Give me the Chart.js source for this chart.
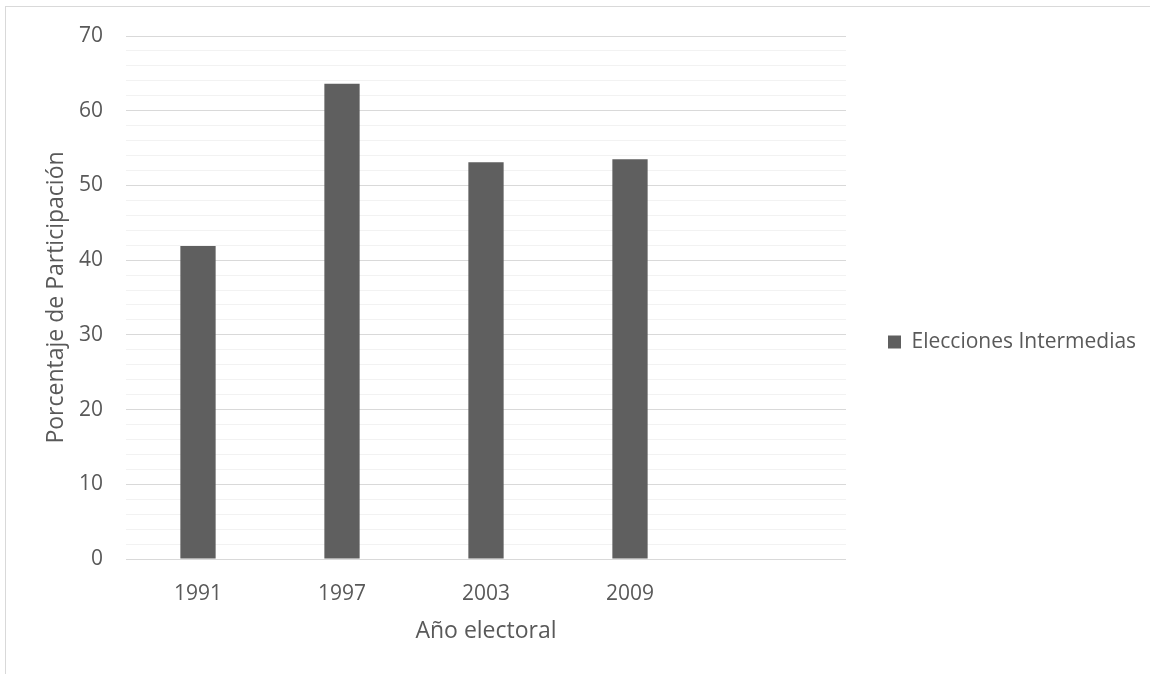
<!DOCTYPE html>
<html>
<head>
<meta charset="utf-8">
<script src="https://cdn.jsdelivr.net/npm/chart.js@4"></script>
<style>
  html, body { margin: 0; padding: 0; background: #fff; overflow: hidden; }
  #wrap { position: relative; width: 1150px; height: 674px; }
  #marco { position: absolute; left: 5px; top: 6px; width: 1200px; height: 720px; border: 1px solid #d9d9d9; box-sizing: border-box; }
  canvas { position: absolute; left: 0; top: 0; }
</style>
</head>
<body>
<div id="wrap">
  <div id="marco"></div>
  <canvas id="participacion" width="1150" height="674"></canvas>
</div>
<script>
// ------------------ Datos ------------------
const anios = ['1991', '1997', '2003', '2009', '']; // último hueco vacío como en el original
const intermedias = [41.9, 63.6, 53.1, 53.5, null]; // % de participación
const ejeY = { min: 0, max: 70, paso: 2, mayor: 10 };

const gris = '#595959';
const fuente = 'Open Sans';

// Ajusta anchos fijos de ejes y leyenda para calcar la disposición
const disposicion = {
    id: 'disposicion',
    beforeLayout(chart) {
        const lg = chart.legend;
        if (lg && !lg._ajustada) {
            const fitOriginal = lg.fit.bind(lg);
            lg.fit = function () { fitOriginal(); this.width = 304; };
            lg._ajustada = true;
        }
    },
    afterLayout(chart) {
        const lg = chart.legend;
        lg.top = 0;
        lg.bottom = 684;
    }
};

new Chart(document.getElementById('participacion').getContext('2d'), {
    type: 'bar',
    data: {
        labels: anios,
        datasets: [{
            label: 'Elecciones Intermedias',
            data: intermedias,
            backgroundColor: '#5f5f5f',
            borderWidth: 0,
            categoryPercentage: 1,
            barPercentage: 0.245
        }]
    },
    options: {
        responsive: false,
        animation: false,
        layout: { padding: { top: 36, left: 0, right: 0, bottom: 0 } },
        plugins: {
            legend: {
                position: 'right',
                labels: {
                    color: gris,
                    font: { family: fuente, size: 21 },
                    boxWidth: 13,
                    boxHeight: 13,
                    padding: 42
                }
            },
            tooltip: { enabled: false }
        },
        scales: {
            x: {
                grid: { display: false, drawTicks: false },
                border: { display: false },
                ticks: { color: gris, font: { family: fuente, size: 21 }, padding: 22 },
                title: { display: true, text: 'Año electoral', color: gris, font: { family: fuente, size: 23 }, padding: { top: 0, bottom: 29 } },
                afterFit(scale) { scale.height = 674 - 559; }
            },
            y: {
                min: ejeY.min,
                max: ejeY.max,
                grid: {
                    drawTicks: false,
                    color: ctx => (ctx.tick.value % ejeY.mayor === 0 ? '#d9d9d9' : '#f2f2f2'),
                    lineWidth: 1
                },
                border: { display: false },
                ticks: {
                    stepSize: ejeY.paso,
                    autoSkip: false,
                    color: gris,
                    font: { family: fuente, size: 21 },
                    padding: 23,
                    callback: v => (v % ejeY.mayor === 0 ? v : '')
                },
                title: { display: true, text: 'Porcentaje de Participación', color: gris, font: { family: fuente, size: 23 }, padding: { top: 43, bottom: 0 } },
                afterFit(scale) { scale.width = 126; }
            }
        }
    },
    plugins: [disposicion]
});
</script>
</body>
</html>
